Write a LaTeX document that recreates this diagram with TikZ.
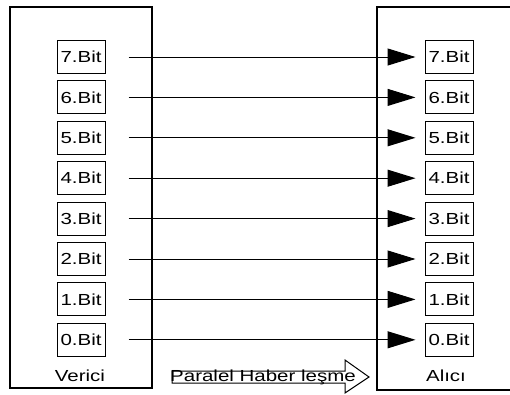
\documentclass[tikz,border=0pt]{standalone}
\usepackage{fontspec}
\setmainfont[FakeStretch=1.28]{Liberation Sans}
\usetikzlibrary{arrows.meta}
\begin{document}
\begin{tikzpicture}[x=1pt,y=-1pt,
  bitbox/.style={draw,line width=1pt,minimum width=48pt,minimum height=33pt,inner sep=0pt,font=\fontsize{16}{18}\selectfont},
  lbl/.style={font=\fontsize{16}{18}\selectfont,inner sep=0pt},
  conn/.style={line width=1pt,-{Triangle[length=28pt,width=17pt]}},
  frame/.style={line width=1.2pt}]
\useasboundingbox (0,0) rectangle (510,394);
\draw[frame] (10,7) rectangle (152,388);
\draw[frame] (512,7) -- (377,7) -- (377,390) -- (512,390);
\foreach \i in {0,...,7}{
  \pgfmathsetmacro{\yy}{57+40.4*(7-\i)}
  \node[bitbox] (s\i) at (81,\yy) {\i.Bit};
  \node[bitbox] (r\i) at (449,\yy) {\i.Bit};
  \draw[conn] ([xshift=23pt]s\i.east) -- ([xshift=-9pt]r\i.west);
}
\node[lbl] (ver) at (80,376) {Verici};
\node[lbl] (alc) at (446,376) {Alıcı};
\draw[line width=1pt] (172,371) -- (345,371) -- (345,360) -- (369,377) -- (345,393) -- (345,383) -- (172,383) -- cycle;
\node[lbl] (par) at (263,377) {Paralel Haber leşme};
\end{tikzpicture}
\end{document}
